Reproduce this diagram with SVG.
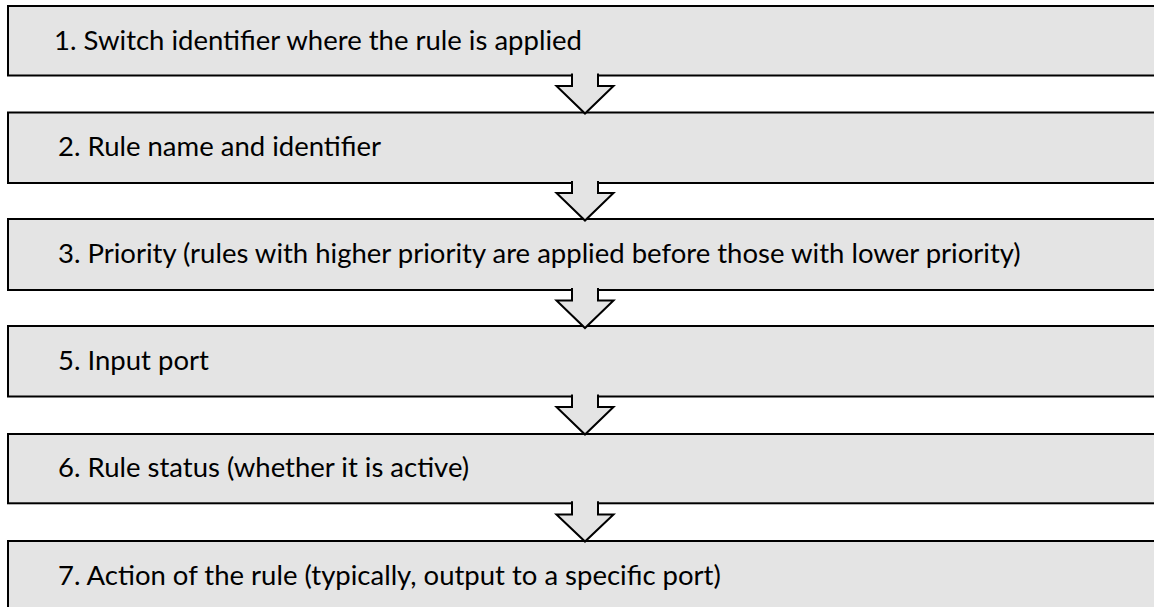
<svg xmlns="http://www.w3.org/2000/svg" width="1154" height="607" viewBox="0 0 1154 607">
<style>
.box{fill:#e4e4e4;stroke:#000;stroke-width:2}
.arr{fill:#e4e4e4;stroke:#000;stroke-width:2;stroke-linejoin:miter}
.t{font-family:Lato,"Liberation Sans",sans-serif;font-size:27.5px;fill:#000}
</style>
<rect width="1154" height="607" fill="#fff"/>
<g id="node1"><rect class="box" x="8" y="6" width="1160" height="69.5"/><text class="t" x="54" y="50">1. Switch identifier where the rule is applied</text></g>
<g id="node2"><rect class="box" x="8" y="112.5" width="1160" height="70.5"/><text class="t" x="58" y="156">2. Rule name and identifier</text></g>
<g id="node3"><rect class="box" x="8" y="219" width="1160" height="71"/><text class="t" x="58" y="263">3. Priority (rules with higher priority are applied before those with lower priority)</text></g>
<g id="node5"><rect class="box" x="8" y="326" width="1160" height="70.5"/><text class="t" x="58" y="370">5. Input port</text></g>
<g id="node6"><rect class="box" x="8" y="434" width="1160" height="69.3"/><text class="t" x="58" y="477">6. Rule status (whether it is active)</text></g>
<g id="node7"><rect class="box" x="8" y="541" width="1160" height="80"/><text class="t" x="58" y="585">7. Action of the rule (typically, output to a specific port)</text></g>
<g id="connectors">
<path class="arr" d="M572,73.5 V86 H556.5 L585,113.5 L613.5,86 H598 V73.5"/>
<path class="arr" d="M572,181 V193 H556.5 L585,220.5 L613.5,193 H598 V181"/>
<path class="arr" d="M572,288 V300.5 H556.5 L585,328 L613.5,300.5 H598 V288"/>
<path class="arr" d="M572,394.5 V407 H556.5 L585,434.5 L613.5,407 H598 V394.5"/>
<path class="arr" d="M572,501.3 V514.5 H556.5 L585,541.5 L613.5,514.5 H598 V501.3"/>
</g>
</svg>
